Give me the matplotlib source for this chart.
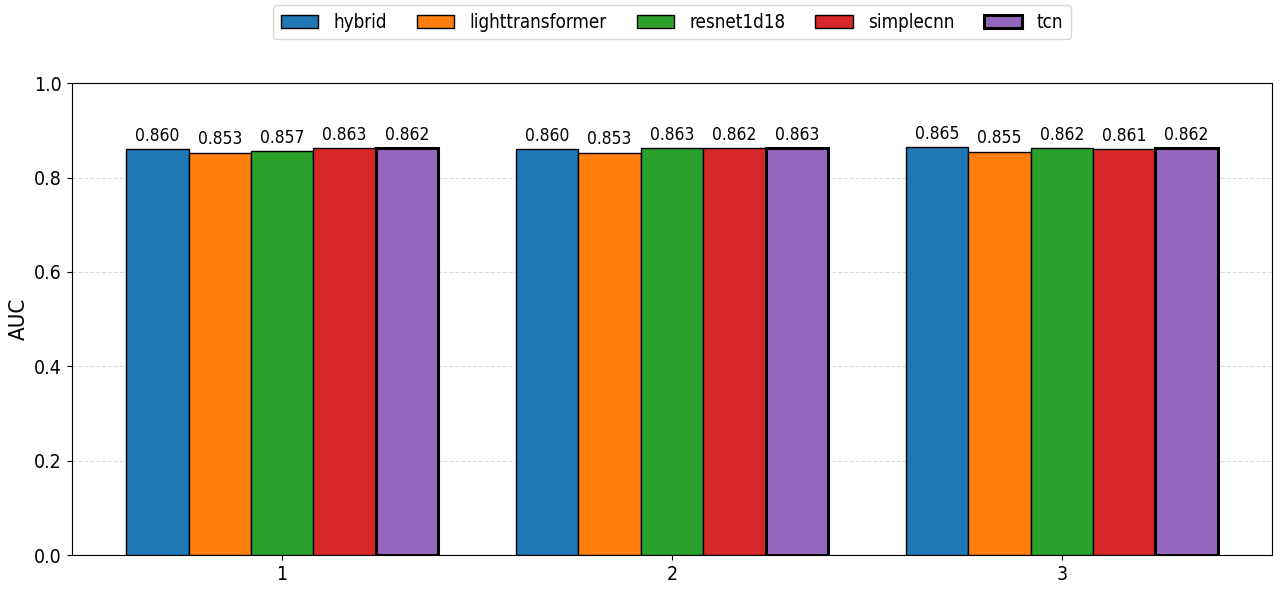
import numpy as np
import matplotlib
matplotlib.use("Agg")
import matplotlib.pyplot as plt

plt.rcParams['font.family'] = ['DejaVu Sans']
plt.rcParams['font.stretch'] = 'condensed'

# data
groups = ["1", "2", "3"]
models = ["hybrid", "lighttransformer", "resnet1d18", "simplecnn", "tcn"]
colors = ["#1f77b4", "#ff7f0e", "#2ca02c", "#d62728", "#9467bd"]
auc = {
    "hybrid":           [0.860, 0.860, 0.865],
    "lighttransformer": [0.853, 0.853, 0.855],
    "resnet1d18":       [0.857, 0.863, 0.862],
    "simplecnn":        [0.863, 0.862, 0.861],
    "tcn":              [0.862, 0.863, 0.862],
}

x = np.arange(1, len(groups) + 1)
width = 0.16

fig, ax = plt.subplots(figsize=(12.8, 5.9), dpi=100)
fig.subplots_adjust(left=0.056, right=0.994, top=0.859, bottom=0.059)

for i, m in enumerate(models):
    offs = (i - 2) * width
    # tcn gets a thicker outline
    lw = 2.2 if m == "tcn" else 1.0
    bars = ax.bar(x + offs, auc[m], width, color=colors[i], edgecolor="black",
                  linewidth=lw, label=m, zorder=3)
    for b, v in zip(bars, auc[m]):
        ax.annotate(f"{v:.3f}", (b.get_x() + b.get_width() / 2, v),
                    xytext=(0, 3), textcoords="offset points",
                    ha="center", va="bottom", fontsize=12.5)

ax.set_ylim(0, 1.0)
ax.set_xticks(x)
ax.set_xticklabels(groups)
ax.tick_params(axis="both", labelsize=14)
ax.set_ylabel("AUC", fontsize=16)
ax.grid(axis="y", linestyle="--", color="#cccccc", alpha=0.7, zorder=0)

ax.legend(loc="upper center", bbox_to_anchor=(0.5, 1.185), ncol=5,
          fontsize=13.5, frameon=True, columnspacing=1.6)

plt.savefig("out.png", dpi=100)
